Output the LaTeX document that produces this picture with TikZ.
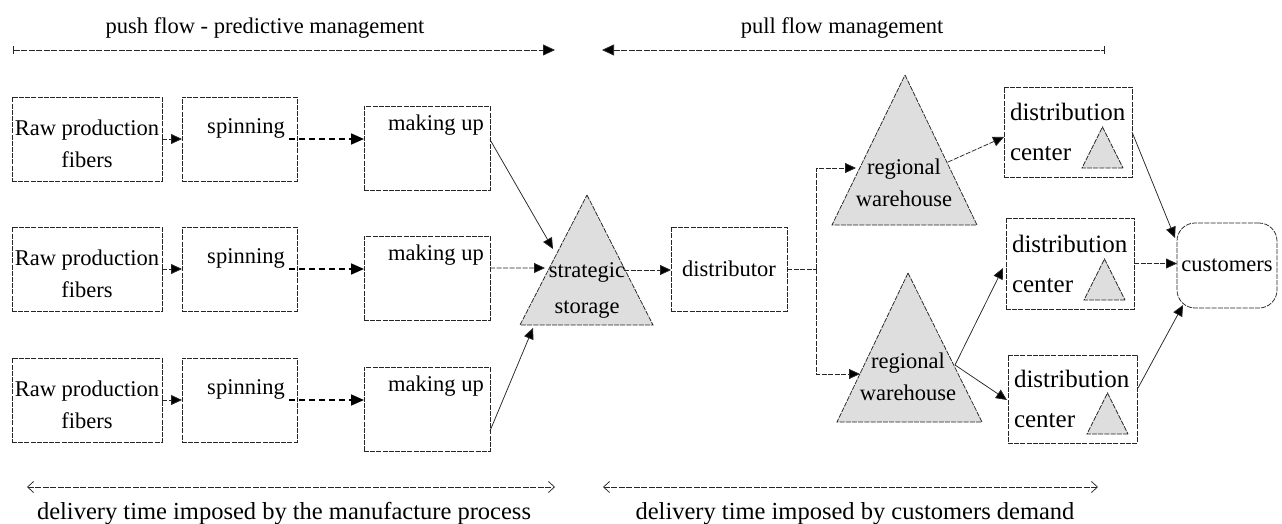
\documentclass[tikz,border=0pt]{standalone}
\usepackage{fontspec}
\setmainfont{Liberation Serif}
\usetikzlibrary{arrows.meta,calc}
\begin{document}
\begin{tikzpicture}[x=1pt,y=-1pt,
  every node/.style={inner sep=0pt,outer sep=0pt,font=\fontsize{22.5}{32}\selectfont},
  ink/.style={draw=black!85,line width=0.75pt},
  boxline/.style={ink,dash pattern=on 5pt off 1.2pt},
  pbox/.style={boxline,minimum width=#1,minimum height=84pt},
  conn/.style={ink,-{Triangle[length=11pt,width=10pt,fill=black]}},
  dconn/.style={conn,dash pattern=on 5pt off 1.5pt},
  bigdash/.style={draw=black,line width=1.7pt,dash pattern=on 6pt off 4pt,
                  -{Triangle[length=13pt,width=11pt]}},
  stock/.style={boxline,fill=black!13},
  span/.style={ink,dash pattern=on 6pt off 1.5pt},
  lbl/.style={align=center},
  bigtxt/.style={font=\fontsize{24.5}{30}\selectfont},
  dctxt/.style={align=left,anchor=west,font=\fontsize{25}{40}\selectfont}
]
\useasboundingbox (0,0) rectangle (1282,524);

% ---- headings with their spans ----
\node (pushT) at (265,28) {push flow - predictive management};
\coordinate (pushL) at (13,50);
\coordinate (pushR) at (555,50);
\draw[span,{Bar[width=8pt]}-{Triangle[length=12pt,width=11pt,fill=black]}] (pushL) -- (pushR);

\node (pullT) at (842,28) {pull flow management};
\coordinate (pullL) at (602,50);
\coordinate (pullR) at (1105,50);
\draw[span,{Triangle[length=12pt,width=11pt,fill=black]}-{Bar[width=8pt]}] (pullL) -- (pullR);

% ---- three production lines ----
\foreach \i/\t in {1/97,2/227,3/358}{
  \node[pbox=150pt] (raw\i) at (87,\t+42) {};
  \node[lbl] (rawT\i) at (87,\t+47) {Raw production\\fibers};
  \node[pbox=115pt] (spin\i) at (239.5,\t+42) {};
  \node (spinT\i) at (246,\t+31) {spinning};
  \node[pbox=126pt] (mk\i) at (427,\t+51) {};
  \node (mkT\i) at (436,\t+28) {making up};
  \draw[dconn] (raw\i.east) -- (spin\i.west);
  \draw[bigdash] ([xshift=-8pt]spin\i.east) -- (spin\i.east -| mk\i.west);
}

% ---- strategic storage ----
\coordinate (sA) at (587,195);
\coordinate (sL) at (520,325);
\coordinate (sR) at (653,325);
\path[stock] (sA) -- (sR) -- (sL) -- cycle;
\node[lbl,font=\fontsize{22.5}{36}\selectfont] (stT) at (587,290) {strategic\\storage};
\coordinate (sIn1) at (553,249);
\coordinate (sIn2) at (545,268);
\coordinate (sIn3) at (533,328);
\coordinate (sOut) at (624,270);

\draw[conn] ($(mk1.north east)!0.4!(mk1.south east)$) -- (sIn1);
\draw[dconn] ($(mk2.north east)!0.38!(mk2.south east)$) -- (sIn2);
\draw[conn] ($(mk3.north east)!0.76!(mk3.south east)$) -- (sIn3);

% ---- distributor ----
\node[pbox=116pt] (dist) at (729,269) {distributor};
\draw[dconn] (sOut) -- (sOut -| dist.west);

\coordinate (split) at (816,269);
\coordinate (rw1in) at (856,168);
\coordinate (rw2in) at (860,374);
\draw[ink,dash pattern=on 5pt off 1.5pt] (dist.east) -- (split);
\draw[dconn] (split) |- (rw1in);
\draw[dconn] (split) |- (rw2in);

% ---- regional warehouses ----
\path[stock] (905,75) coordinate (w1A) -- (977,225) coordinate (w1R) -- (832,225) coordinate (w1L) -- cycle;
\node[lbl] (rw1T) at (904,183) {regional\\warehouse};
\path[stock] (908,273) coordinate (w2A) -- (982,422) coordinate (w2R) -- (837,422) coordinate (w2L) -- cycle;
\node[lbl] (rw2T) at (908,377) {regional\\warehouse};
\coordinate (rw1out) at (948,162);
\coordinate (rw2out) at (955,365);

% ---- distribution centers ----
\node[boxline,minimum width=128pt,minimum height=90pt] (dc1) at (1068,132) {};
\node[boxline,minimum width=128pt,minimum height=91pt] (dc2) at (1070,263.5) {};
\node[boxline,minimum width=129pt,minimum height=88pt] (dc3) at (1072.5,399) {};
\foreach \d in {1,2,3}{
  \node[dctxt] (dcT\d) at ([xshift=6pt]dc\d.west) {distribution\\center};
  \path[stock] ([xshift=-9pt,yshift=9pt]dc\d.south east) coordinate (dcR\d)
     -- ++(-41,0) coordinate (dcL\d) -- ++(20.5,-41) coordinate (dcA\d) -- cycle;
}

\draw[dconn] (rw1out) -- ($(dc1.west)+(0,5)$);
\draw[conn] (rw2out) -- ($(dc2.west)+(-3,4.5)$);
\draw[conn] (rw2out) -- ($(dc3.west)+(-1,1)$);

% ---- customers ----
\node[boxline,rounded corners=18pt,minimum width=100pt,minimum height=85pt] (cust) at (1227,265.5) {customers};
\draw[conn] (dc1.east) -- ($(cust.north west)+(-2,15)$);
\draw[dconn] (dc2.east) -- (cust.west |- dc2.east);
\draw[conn] ($(dc3.east)+(1,-11)$) -- ($(cust.south west)+(6,-3)$);

% ---- lead-time spans ----
\coordinate (mfL) at (27,487);
\coordinate (mfR) at (555,487);
\draw[span,{Straight Barb[length=6pt,width=11pt]}-{Straight Barb[length=6pt,width=11pt]}] (mfL) -- (mfR);
\node[bigtxt] (mfT) at (284,514) {delivery time imposed by the manufacture process};
\coordinate (cdL) at (603,487);
\coordinate (cdR) at (1098,487);
\draw[span,{Straight Barb[length=6pt,width=11pt]}-{Straight Barb[length=6pt,width=11pt]}] (cdL) -- (cdR);
\node[bigtxt] (cdT) at (855,514) {delivery time imposed by customers demand};
\end{tikzpicture}
\end{document}
